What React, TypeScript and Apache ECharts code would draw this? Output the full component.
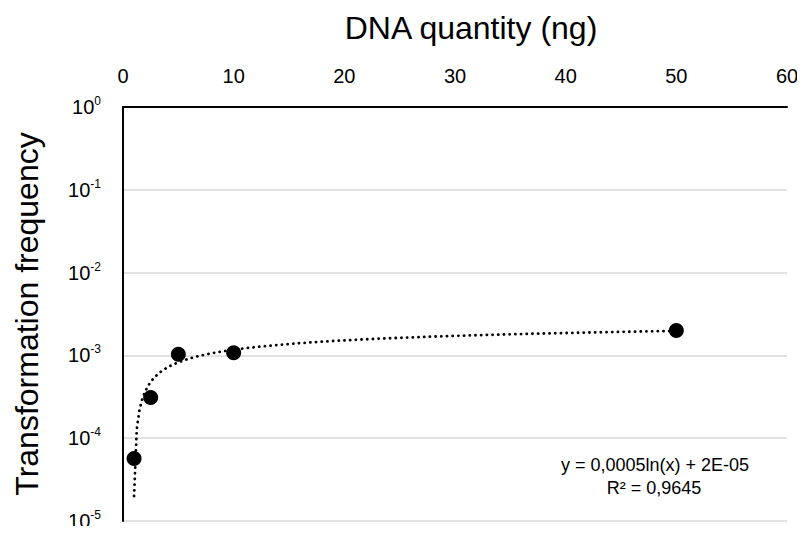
import React, { useEffect, useRef } from "react";
import * as echarts from "echarts";

const dnaQuantity = [1, 2.5, 5, 10, 50];
const frequency = [5.7e-5, 3.1e-4, 1.03e-3, 1.08e-3, 2.0e-3];
const xTicks = [0, 10, 20, 30, 40, 50, 60];
const yExponents = [0, -1, -2, -3, -4, -5];
// trendline coefficients as printed on the chart: y = a ln(x) + b
const trendA = 0.0005;
const trendB = 2e-5;
const equationText = "y = 0,0005ln(x) + 2E-05";
const r2Text = "R² = 0,9645";

export default function App() {
  const ref = useRef<HTMLDivElement>(null);
  useEffect(() => {
    if (!ref.current) return;
    const chart = echarts.init(ref.current, undefined, { renderer: "svg" });
    const trend: number[][] = [];
    const xs0 = dnaQuantity[0];
    const xs1 = dnaQuantity[dnaQuantity.length - 1];
    for (let i = 0; i <= 200; i++) {
      const x = xs0 + ((xs1 - xs0) * i) / 200;
      trend.push([x, trendA * Math.log(x) + trendB]);
    }
    const font = "Liberation Sans";
    chart.setOption({
      animation: false,
      backgroundColor: "#ffffff",
      textStyle: { fontFamily: font },
      grid: { left: 123, right: 18, top: 107, bottom: 13 },
      xAxis: {
        type: "value",
        position: "top",
        min: xTicks[0],
        max: xTicks[xTicks.length - 1],
        interval: 10,
        name: "DNA quantity (ng)",
        nameLocation: "middle",
        nameGap: 63,
        nameTextStyle: { fontSize: 32, color: "#000", fontFamily: font, padding: [0, 0, 0, 32] },
        axisLine: { show: true, lineStyle: { color: "#000", width: 2 } },
        axisTick: { show: false },
        splitLine: { show: false },
        axisLabel: { fontSize: 20, color: "#000", margin: 21, fontFamily: font },
      },
      yAxis: {
        type: "log",
        logBase: 10,
        min: Math.pow(10, yExponents[yExponents.length - 1]),
        max: Math.pow(10, yExponents[0]),
        name: "Transformation frequency",
        nameLocation: "middle",
        nameGap: 80,
        nameTextStyle: { fontSize: 32, color: "#000", fontFamily: font },
        axisLine: { show: true, lineStyle: { color: "#000", width: 2 } },
        axisTick: { show: false },
        splitLine: { show: true, lineStyle: { color: "#d9d9d9", width: 1.5 } },
        axisLabel: {
          margin: 22,
          fontSize: 20,
          color: "#000",
          fontFamily: font,
          formatter: (v: number) => {
            const e = Math.round(Math.log10(v));
            return "{base|10}{sup|" + String(e) + "}";
          },
          rich: {
            base: { fontSize: 20, fontFamily: font, color: "#000", lineHeight: 24 },
            sup: { fontSize: 12, fontFamily: font, color: "#000", lineHeight: 12, verticalAlign: "top" },
          },
        },
      },
      series: [
        {
          type: "line",
          data: trend,
          showSymbol: false,
          symbol: "none",
          smooth: false,
          lineStyle: { color: "#000", width: 2.8, type: [0.1, 5.6], cap: "round" },
          z: 2,
        },
        {
          type: "scatter",
          data: dnaQuantity.map((x, i) => [x, frequency[i]]),
          symbol: "circle",
          symbolSize: 15,
          itemStyle: { color: "#000", opacity: 1 },
          z: 3,
        },
      ],
      graphic: [
        {
          type: "text",
          x: 655,
          y: 465,
          style: { text: equationText, fontSize: 18, fill: "#000", fontFamily: font, align: "center", verticalAlign: "middle" },
        },
        {
          type: "text",
          x: 654,
          y: 488,
          style: { text: r2Text, fontSize: 18, fill: "#000", fontFamily: font, align: "center", verticalAlign: "middle" },
        },
      ],
    });
    return () => chart.dispose();
  }, []);
  return <div ref={ref} style={{ width: 805, height: 534, margin: -8 }} />;
}
